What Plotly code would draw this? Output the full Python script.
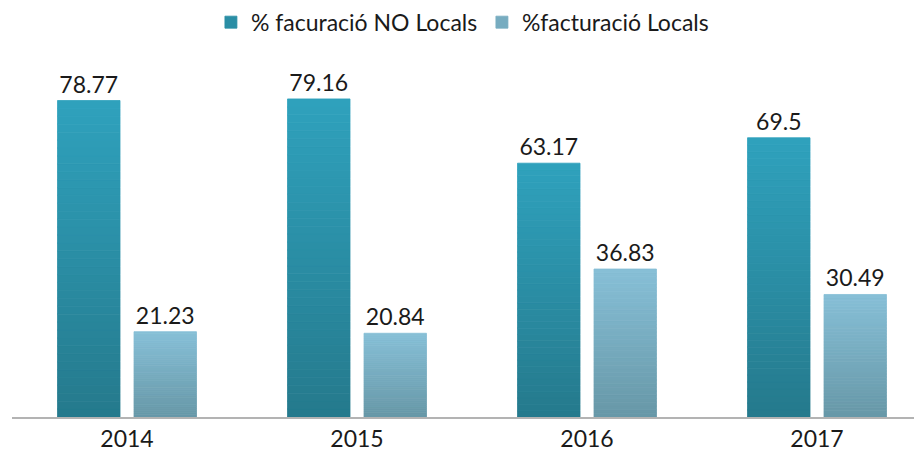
import plotly.graph_objects as go

anys = ["2014", "2015", "2016", "2017"]
no_locals = [78.77, 79.16, 63.17, 69.5]
locals_ = [21.23, 20.84, 36.83, 30.49]

noms = ["% facuració NO Locals", "%facturació Locals"]
# colors degradat (baix, dalt) de cada serie
colors = [("#257a8c", "#2fa1bd"), ("#6797a7", "#87c0d7")]

N = 40  # llesques per fer el degradat


def hex_rgb(h):
    h = h.lstrip("#")
    return [int(h[i:i + 2], 16) for i in (0, 2, 4)]


def barreja(c1, c2, t):
    a, b = hex_rgb(c1), hex_rgb(c2)
    return "rgb(%d,%d,%d)" % tuple(round(a[i] + (b[i] - a[i]) * t) for i in range(3))


fig = go.Figure()
for s, valors in enumerate([no_locals, locals_]):
    baix, dalt = colors[s]
    for k in range(N):
        tros = [v / N for v in valors]
        base = [v * k / N for v in valors]
        ultim = k == N - 1
        c = barreja(baix, dalt, (k + 0.5) / N)
        fig.add_trace(go.Bar(
            x=anys, y=tros, base=base,
            offsetgroup=str(s), legendgroup=str(s),
            name=noms[s], showlegend=(k == N // 2),
            marker=dict(color=c, line=dict(width=0.8, color=c)),
            text=[str(v) for v in valors] if ultim else None,
            textposition="outside" if ultim else "none",
            textfont=dict(size=23, color="#1a1a1a"),
            cliponaxis=False,
            customdata=valors,
            hovertemplate="%{x}: %{customdata}<extra>" + noms[s] + "</extra>",
        ))

# la pagina te 8px de marge, la figura omple la resta de la finestra
fig.update_layout(
    width=914, height=444,
    barmode="group", bargap=0.335, bargroupgap=0.183,
    margin=dict(l=4, r=0, t=52, b=31),
    plot_bgcolor="white", paper_bgcolor="white",
    font=dict(family="Lato, Calibri, sans-serif", size=23, color="#1a1a1a"),
    legend=dict(orientation="h", x=0.5164, xanchor="center", y=0.968, yanchor="middle",
                yref="container", font=dict(size=23), entrywidth=226,
                traceorder="normal"),
    showlegend=True,
)
fig.update_xaxes(range=[-0.5, 3.4565], showline=True, linecolor="#b3b3b3", linewidth=2,
                 ticks="", showgrid=False, tickfont=dict(size=23), fixedrange=True)
fig.update_yaxes(range=[0, 88.85], visible=False, showgrid=False, zeroline=False)

fig.write_html("out.html")
